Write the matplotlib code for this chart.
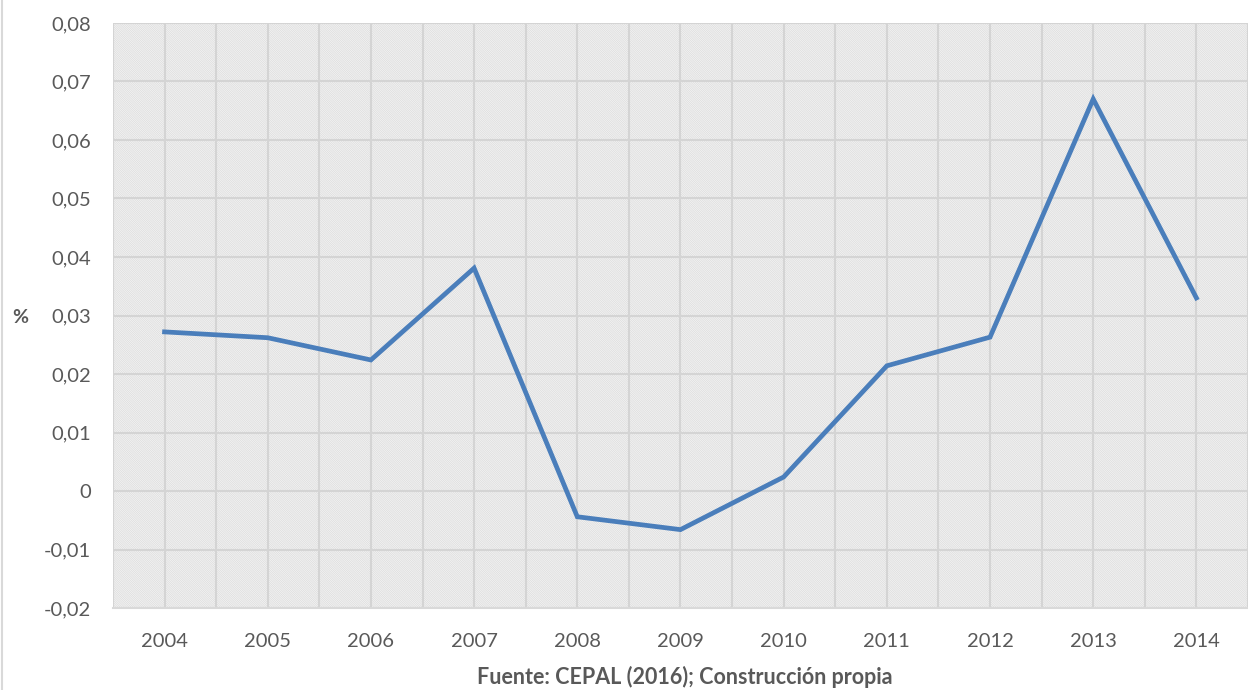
import numpy as np
import matplotlib.pyplot as plt
from matplotlib.patches import Rectangle
from matplotlib.lines import Line2D

plt.rcParams['font.family'] = ['Lato', 'DejaVu Sans']
plt.rcParams['hatch.linewidth'] = 0.6

years = ['2004', '2005', '2006', '2007', '2008', '2009', '2010',
         '2011', '2012', '2013', '2014']
tasa = [0.0272, 0.0262, 0.0224, 0.0381, -0.0044, -0.0066, 0.0024,
        0.0214, 0.0263, 0.0670, 0.0330]
yticks = [-0.02, -0.01, 0, 0.01, 0.02, 0.03, 0.04, 0.05, 0.06, 0.07, 0.08]

txt = '#595959'
grid = '#d4d4d4'

fig = plt.figure(figsize=(12.48, 6.9), dpi=100)
ax = fig.add_axes([0.0905, 0.1188, 0.9095, 0.8479])

# fondo rayado del area de trazado
ax.add_patch(Rectangle((0, 0), 1, 1, transform=ax.transAxes, facecolor='white',
                       edgecolor='#dcdcdc', hatch='\\' * 18, lw=0, zorder=0))

x = np.arange(len(years))
ax.plot(x, tasa, color='#4a7ebb', lw=3.4, solid_joinstyle='miter', zorder=3)

ax.set_xlim(-0.5, len(years) - 0.5)
ax.set_ylim(-0.02, 0.08)
ax.set_yticks(yticks)
ax.set_yticklabels([f'{v:.2f}'.replace('.', ',') if v != 0 else '0' for v in yticks])
ax.set_xticks(x)
ax.set_xticklabels(years)
ax.set_xticks(np.arange(-0.5, len(years), 1.0), minor=True)

ax.grid(axis='y', which='major', color=grid, lw=1.5, zorder=1)
ax.grid(axis='x', which='both', color=grid, lw=1.5, zorder=1)
ax.set_axisbelow(True)

for s in ['top', 'right', 'left']:
    ax.spines[s].set_visible(False)
ax.spines['bottom'].set_color('#d9d9d9')
ax.spines['bottom'].set_linewidth(1.5)

ax.tick_params(axis='both', which='both', length=0, labelsize=14.5, labelcolor=txt)
ax.tick_params(axis='y', pad=16)
ax.tick_params(axis='x', pad=18)

fig.text(0.010, 0.54, '%', fontsize=14, fontweight='bold', color=txt,
         ha='left', va='center')
fig.text(0.549, 0.019, 'Fuente: CEPAL (2016); Construcción propia', fontsize=15.5,
         fontweight='bold', color=txt, ha='center', va='center')

fig.add_artist(Line2D([0.0016, 0.0016], [0, 1], color='#d9d9d9', lw=1.5))

fig.savefig('out.png', dpi=100)
